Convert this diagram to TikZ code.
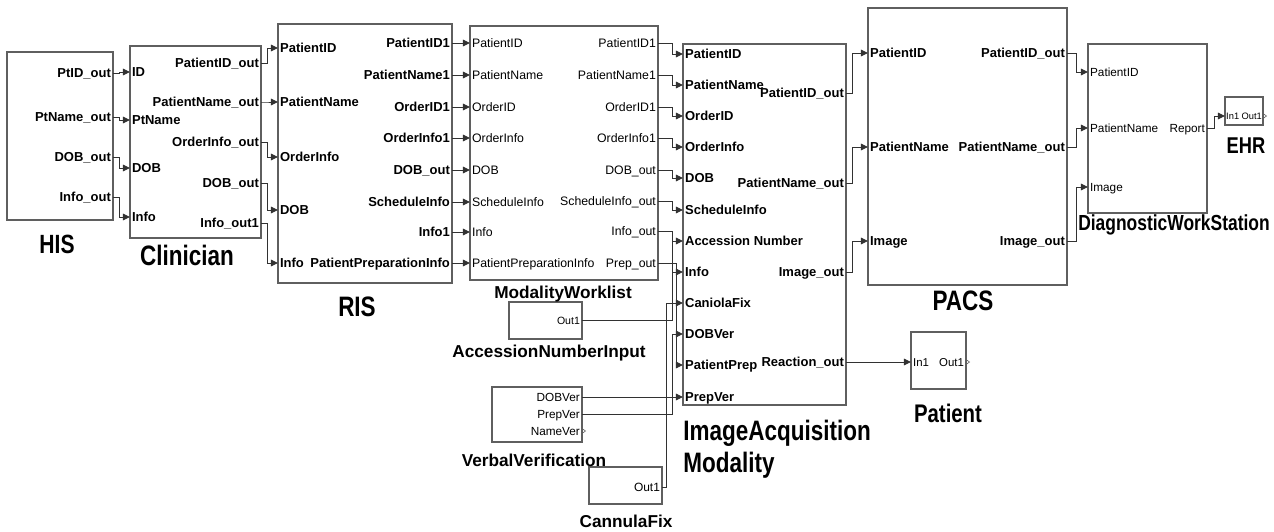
\documentclass[tikz,border=0pt]{standalone}
\usepackage{fontspec}
\setmainfont{Liberation Sans}
\newfontfamily\titlefont{Liberation Sans}[FakeStretch=0.8]
\usetikzlibrary{arrows.meta,fit}
\definecolor{boxgray}{RGB}{95,95,95}
\definecolor{wiregray}{RGB}{50,50,50}

\begin{document}
\begin{tikzpicture}[
		x=0.02cm, y=-0.02cm,
			block/.style = {draw=boxgray, line width=0.6pt, inner sep=0pt},
			wire/.style = {draw=wiregray, line width=0.5pt,
				-{Triangle[length=4pt,width=3.8pt]}},
			portmark/.style = {draw=boxgray, line width=0.35pt},
			inb/.style = {anchor=west, inner xsep=1pt, inner ysep=0pt,
				text height=5.3pt, text depth=0pt,
				font=\fontsize{7.4}{8}\selectfont\bfseries},
			outb/.style = {inb, anchor=east},
			inr/.style = {inb, text height=5pt, font=\fontsize{7}{8}\selectfont},
			outr/.style = {inr, anchor=east},
			title/.style = {anchor=base, inner sep=0pt,
				font=\titlefont\fontsize{16}{18}\selectfont\bfseries},
			subtitle/.style = {anchor=base, inner sep=0pt,
				font=\fontsize{9.8}{11}\selectfont\bfseries}
		]
		\useasboundingbox (0,0) rectangle (1274,531);
		% blocks
		\node[block, fit={(7,52) (113,220)}]     (HIS) {};
		\node[block, fit={(130,46) (261,238)}]   (CL)  {};
		\node[block, fit={(278,24) (452,283)}]   (RIS) {};
		\node[block, fit={(470,26) (658,280)}]   (MW)  {};
		\node[block, fit={(683,44) (846,405)}]   (IA)  {};
		\node[block, fit={(509,302) (582,339)}]  (AN)  {};
		\node[block, fit={(492,387) (582,442)}]  (VV)  {};
		\node[block, fit={(589,467) (662,504)}]  (CF)  {};
		\node[block, fit={(868,8) (1067,285)}]   (PACS) {};
		\node[block, fit={(1088,44) (1207,213)}] (DWS) {};
		\node[block, fit={(1225,97) (1263,125)}] (EHR) {};
		\node[block, fit={(911,332) (966,389)}]  (PT)  {};
		% block titles
		\node[title, font=\titlefont\fontsize{15}{18}\selectfont\bfseries] at (57,253) {HIS};
		\node[title] at (187,265) {Clinician};
		\node[title] at (357,316) {RIS};
		\node[subtitle] at (563,298) {ModalityWorklist};
		\node[subtitle] at (549,357) {AccessionNumberInput};
		\node[subtitle] at (534,466) {VerbalVerification};
		\node[subtitle] at (626,527) {CannulaFix};
		\node[title, anchor=base west] at (683,440) {ImageAcquisition};
		\node[title, anchor=base west] at (683,472) {Modality};
		\node[title] at (963,310) {PACS};
		\node[title, font=\titlefont\fontsize{14.5}{18}\selectfont\bfseries] at (948,422) {Patient};
		\node[title, font=\titlefont\fontsize{12.4}{14}\selectfont\bfseries] at (1174,230) {DiagnosticWorkStation};
		\node[title, font=\titlefont\fontsize{13}{14}\selectfont\bfseries] at (1246,153) {EHR};
		% ports
		\foreach \y/\t [count=\i] in {73/PtID\_out, 117/PtName\_out, 157/DOB\_out, 197/Info\_out}
			\node[outb] (HIS-o\i) at (113,\y) {\t};
		\foreach \y/\t [count=\i] in {72/ID, 120/PtName, 168/DOB, 217/Info}
			\node[inb] (CL-i\i) at (130,\y) {\t};
		\foreach \y/\t [count=\i] in {63/PatientID\_out, 102/PatientName\_out, 142/OrderInfo\_out,
				183/DOB\_out, 223/Info\_out1}
			\node[outb] (CL-o\i) at (261,\y) {\t};
		\foreach \y/\t [count=\i] in {48/PatientID, 102/PatientName, 157/OrderInfo, 210/DOB, 263/Info}
			\node[inb] (RIS-i\i) at (278,\y) {\t};
		\foreach \y/\t [count=\i] in {43/PatientID1, 75/PatientName1, 107/OrderID1, 138/OrderInfo1,
				170/DOB\_out, 202/ScheduleInfo, 232/Info1, 263/PatientPreparationInfo}
			\node[outb] (RIS-o\i) at (452,\y) {\t};
		\foreach \y/\t [count=\i] in {43/PatientID, 75/PatientName, 107/OrderID, 138/OrderInfo,
				170/DOB, 202/ScheduleInfo, 232/Info, 263/PatientPreparationInfo}
			\node[inr] (MW-i\i) at (470,\y) {\t};
		\foreach \y/\t [count=\i] in {43/PatientID1, 75/PatientName1, 107/OrderID1, 138/OrderInfo1,
				170/DOB\_out, 201/ScheduleInfo\_out, 231/Info\_out, 263/Prep\_out}
			\node[outr] (MW-o\i) at (658,\y) {\t};
		\foreach \y/\t [count=\i] in {54/PatientID, 85/PatientName, 116/OrderID, 147/OrderInfo,
				178/DOB, 210/ScheduleInfo, 241/Accession Number, 272/Info, 303/CaniolaFix,
				334/DOBVer, 365/PatientPrep, 397/PrepVer}
			\node[inb] (IA-i\i) at (683,\y) {\t};
		\foreach \y/\t [count=\i] in {93/PatientID\_out, 183/PatientName\_out, 272/Image\_out, 362/Reaction\_out}
			\node[outb] (IA-o\i) at (846,\y) {\t};
		\node[outr, font=\fontsize{6}{7}\selectfont] (AN-o) at (582,320) {Out1};
		\foreach \y/\t [count=\i] in {397/DOBVer, 414/PrepVer, 431/NameVer}
			\node[outr, font=\fontsize{6.7}{7}\selectfont] (VV-o\i) at (582,\y) {\t};
		\node[outr, font=\fontsize{6.8}{7}\selectfont] (CF-o) at (662,487) {Out1};
		\foreach \y/\t [count=\i] in {53/PatientID, 147/PatientName, 241/Image}
			\node[inb] (PACS-i\i) at (868,\y) {\t};
		\foreach \y/\t [count=\i] in {53/PatientID\_out, 147/PatientName\_out, 241/Image\_out}
			\node[outb] (PACS-o\i) at (1067,\y) {\t};
		\foreach \y/\t [count=\i] in {72/PatientID, 128/PatientName, 187/Image}
			\node[inr, font=\fontsize{6.7}{7}\selectfont] (DWS-i\i) at (1088,\y) {\t};
		\node[outr, font=\fontsize{6.7}{7}\selectfont] (DWS-o) at (1207,128) {Report};
		\node[inr, inner xsep=0.5pt, text height=4pt, font=\fontsize{5.3}{6}\selectfont] (EHR-i) at (1225,116) {In1};
		\node[outr, inner xsep=0.5pt, text height=4pt, font=\fontsize{5.3}{6}\selectfont] (EHR-o) at (1263,116) {Out1};
		\node[inr, font=\fontsize{6.5}{7}\selectfont] (PT-i) at (911,362) {In1};
		\node[outr, font=\fontsize{6.5}{7}\selectfont] (PT-o) at (966,362) {Out1};
		% unconnected outputs
		\foreach \p in {VV-o3, EHR-o, PT-o}
			\draw[portmark] (\p.east) ++(0,-2.5) -- ++(3.5,2.5) -- ++(-3.5,2.5);
		% connections
		\foreach \i in {1,...,4}
			\draw[wire] (HIS-o\i.east) -- ++(6,0) |- (CL-i\i.west);
		\foreach \i in {1,...,5}
			\draw[wire] (CL-o\i.east) -- ++(6,0) |- (RIS-i\i.west);
		\foreach \i in {1,...,8}
			\draw[wire] (RIS-o\i.east) -- (MW-i\i.west);
		\foreach \i in {1,...,6}
			\draw[wire] (MW-o\i.east) -- ++(14,0) |- (IA-i\i.west);
		\draw[wire] (MW-o7.east) -- ++(14,0) |- (IA-i8.west);
		\draw[wire] (MW-o8.east) -- ++(18,0) |- (IA-i11.west);
		\draw[wire] (AN-o.east) -- ++(90,0) |- (IA-i7.west);
		\draw[wire] (CF-o.east) -- ++(4,0) |- (IA-i9.west);
		\draw[wire] (VV-o1.east) -- (IA-i12.west);
		\draw[wire] (VV-o2.east) -- ++(90,0) |- (IA-i10.west);
		\foreach \i in {1,...,3}
			\draw[wire] (IA-o\i.east) -- ++(6,0) |- (PACS-i\i.west);
		\draw[wire] (IA-o4.east) -- (PT-i.west);
		\foreach \i in {1,...,3}
			\draw[wire] (PACS-o\i.east) -- ++(9,0) |- (DWS-i\i.west);
		\draw[wire] (DWS-o.east) -- ++(7,0) |- (EHR-i.west);
	\end{tikzpicture}
\end{document}
